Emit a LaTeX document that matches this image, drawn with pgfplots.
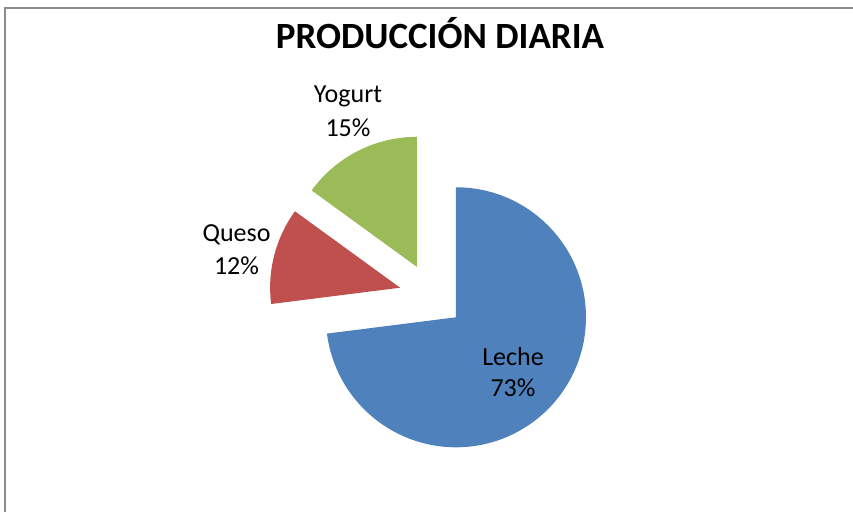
\documentclass[border=0pt]{standalone}
\usepackage{pgfplots}
\pgfplotsset{compat=1.18}
\usepackage{fontspec}
\setmainfont{Carlito}
\definecolor{cLeche}{HTML}{4F81BD}
\definecolor{cQueso}{HTML}{C0504D}
\definecolor{cYogurt}{HTML}{9BBB59}
\begin{document}
\begin{tikzpicture}
\useasboundingbox (0,0) rectangle (853bp,512bp);
\fill[white] (0,0) rectangle (853bp,512bp);
% data (percent)
\pgfmathsetmacro\vL{73}
\pgfmathsetmacro\vQ{12}
\pgfmathsetmacro\vY{15}
% angles, clockwise from 12 o'clock
\pgfmathsetmacro\sL{90}
\pgfmathsetmacro\eL{\sL-3.6*\vL}
\pgfmathsetmacro\eQ{\eL-3.6*\vQ}
\pgfmathsetmacro\eY{\eQ-3.6*\vY}
\pgfmathsetmacro\mL{(\sL+\eL)/2}
\pgfmathsetmacro\mQ{(\eL+\eQ)/2}
\pgfmathsetmacro\mY{(\eQ+\eY)/2}
\begin{axis}[at={(0,0)}, anchor=south west, x=1bp, y=1bp,
  xmin=0, xmax=853, ymin=0, ymax=512, hide axis, clip=false]
\draw[color=black!45, line width=1.3bp] (axis cs:5,-20) -- (axis cs:5,504) -- (axis cs:900,504);
\fill[cLeche, shift={(\mL:32.5bp)}] (axis cs:431.6,216.2) -- ++(\sL:130bp) arc[start angle=\sL, end angle=\eL, radius=130bp] -- cycle;
\fill[cQueso, shift={(\mQ:32.5bp)}] (axis cs:431.6,216.2) -- ++(\eL:130bp) arc[start angle=\eL, end angle=\eQ, radius=130bp] -- cycle;
\fill[cYogurt, shift={(\mY:32.5bp)}] (axis cs:431.6,216.2) -- ++(\eQ:130bp) arc[start angle=\eQ, end angle=\eY, radius=130bp] -- cycle;
\node[anchor=base, font=\fontsize{37bp}{44bp}\selectfont\bfseries] at (axis cs:440,463) {PRODUCCIÓN DIARIA};
\node[anchor=base, font=\fontsize{26bp}{33bp}\selectfont] at (axis cs:348,409.3) {Yogurt};
\node[anchor=base, font=\fontsize{26bp}{33bp}\selectfont] at (axis cs:348,376) {15\%};
\node[anchor=base, font=\fontsize{26bp}{33bp}\selectfont] at (axis cs:236.5,270.3) {Queso};
\node[anchor=base, font=\fontsize{26bp}{33bp}\selectfont] at (axis cs:236.5,238) {12\%};
\node[anchor=base, font=\fontsize{26bp}{33bp}\selectfont] at (axis cs:513,147) {Leche};
\node[anchor=base, font=\fontsize{26bp}{33bp}\selectfont] at (axis cs:513,115.3) {73\%};
\end{axis}
\end{tikzpicture}
\end{document}
